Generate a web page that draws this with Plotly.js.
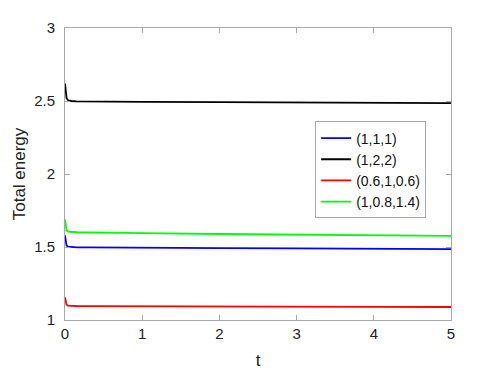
<!DOCTYPE html>
<html>
<head>
<meta charset="utf-8">
<script src="https://cdn.plot.ly/plotly-3.0.1.min.js"></script>
<style>body{margin:0;background:#fff;}</style>
</head>
<body>
<div id="plot" style="width:498px;height:374px;"></div>
<script>
var t = [0, 0.01, 0.02, 0.04, 0.08, 0.15, 0.3, 0.5, 1, 2, 3, 4, 5];

var e111 = [1.58, 1.53, 1.51, 1.502, 1.499, 1.498, 1.497, 1.496, 1.494, 1.492, 1.490, 1.488, 1.486];
var e122 = [2.62, 2.56, 2.52, 2.505, 2.500, 2.498, 2.497, 2.496, 2.494, 2.492, 2.490, 2.488, 2.486];
var e06 = [1.155, 1.12, 1.105, 1.099, 1.097, 1.096, 1.095, 1.095, 1.094, 1.093, 1.091, 1.090, 1.089];
var e108 = [1.69, 1.64, 1.615, 1.606, 1.603, 1.601, 1.600, 1.598, 1.595, 1.589, 1.584, 1.580, 1.576];

var names = ['(1,1,1)', '(1,2,2)', '(0.6,1,0.6)', '(1,0.8,1.4)'];
var colors = ['#0000ff', '#000000', '#ff0000', '#00ff00'];
var series = [e111, e122, e06, e108];

var data = series.map(function (y, i) {
  return {
    x: t,
    y: y,
    type: 'scatter',
    mode: 'lines',
    name: names[i],
    line: {color: colors[i], width: 1.8}
  };
});

var ax = {
  showgrid: false,
  zeroline: false,
  showline: true,
  mirror: 'ticks',
  linecolor: '#a8a8a8',
  linewidth: 1,
  ticks: 'inside',
  ticklen: 5,
  tickcolor: '#a8a8a8',
  tickfont: {size: 15, color: '#222'}
};

var layout = {
  width: 498,
  height: 374,
  margin: {l: 65, r: 47, t: 28, b: 54},
  paper_bgcolor: '#fff',
  plot_bgcolor: '#fff',
  font: {family: 'Liberation Sans, Arial, sans-serif', color: '#222'},
  showlegend: true,
  legend: {
    x: 0.648, y: 0.68, xanchor: 'left', yanchor: 'top',
    bgcolor: '#fff', bordercolor: '#a8a8a8', borderwidth: 1,
    font: {size: 14, color: '#111'},
    tracegroupgap: 0
  },
  xaxis: Object.assign({}, ax, {
    range: [0, 5], tickvals: [0, 1, 2, 3, 4, 5],
    title: {text: 't', font: {size: 17}, standoff: 13}
  }),
  yaxis: Object.assign({}, ax, {
    range: [1, 3], tickvals: [1, 1.5, 2, 2.5, 3],
    ticklabelstandoff: 6,
    title: {text: 'Total energy', font: {size: 17}, standoff: 4}
  })
};

Plotly.newPlot('plot', data, layout, {displayModeBar: false});
</script>
</body>
</html>
